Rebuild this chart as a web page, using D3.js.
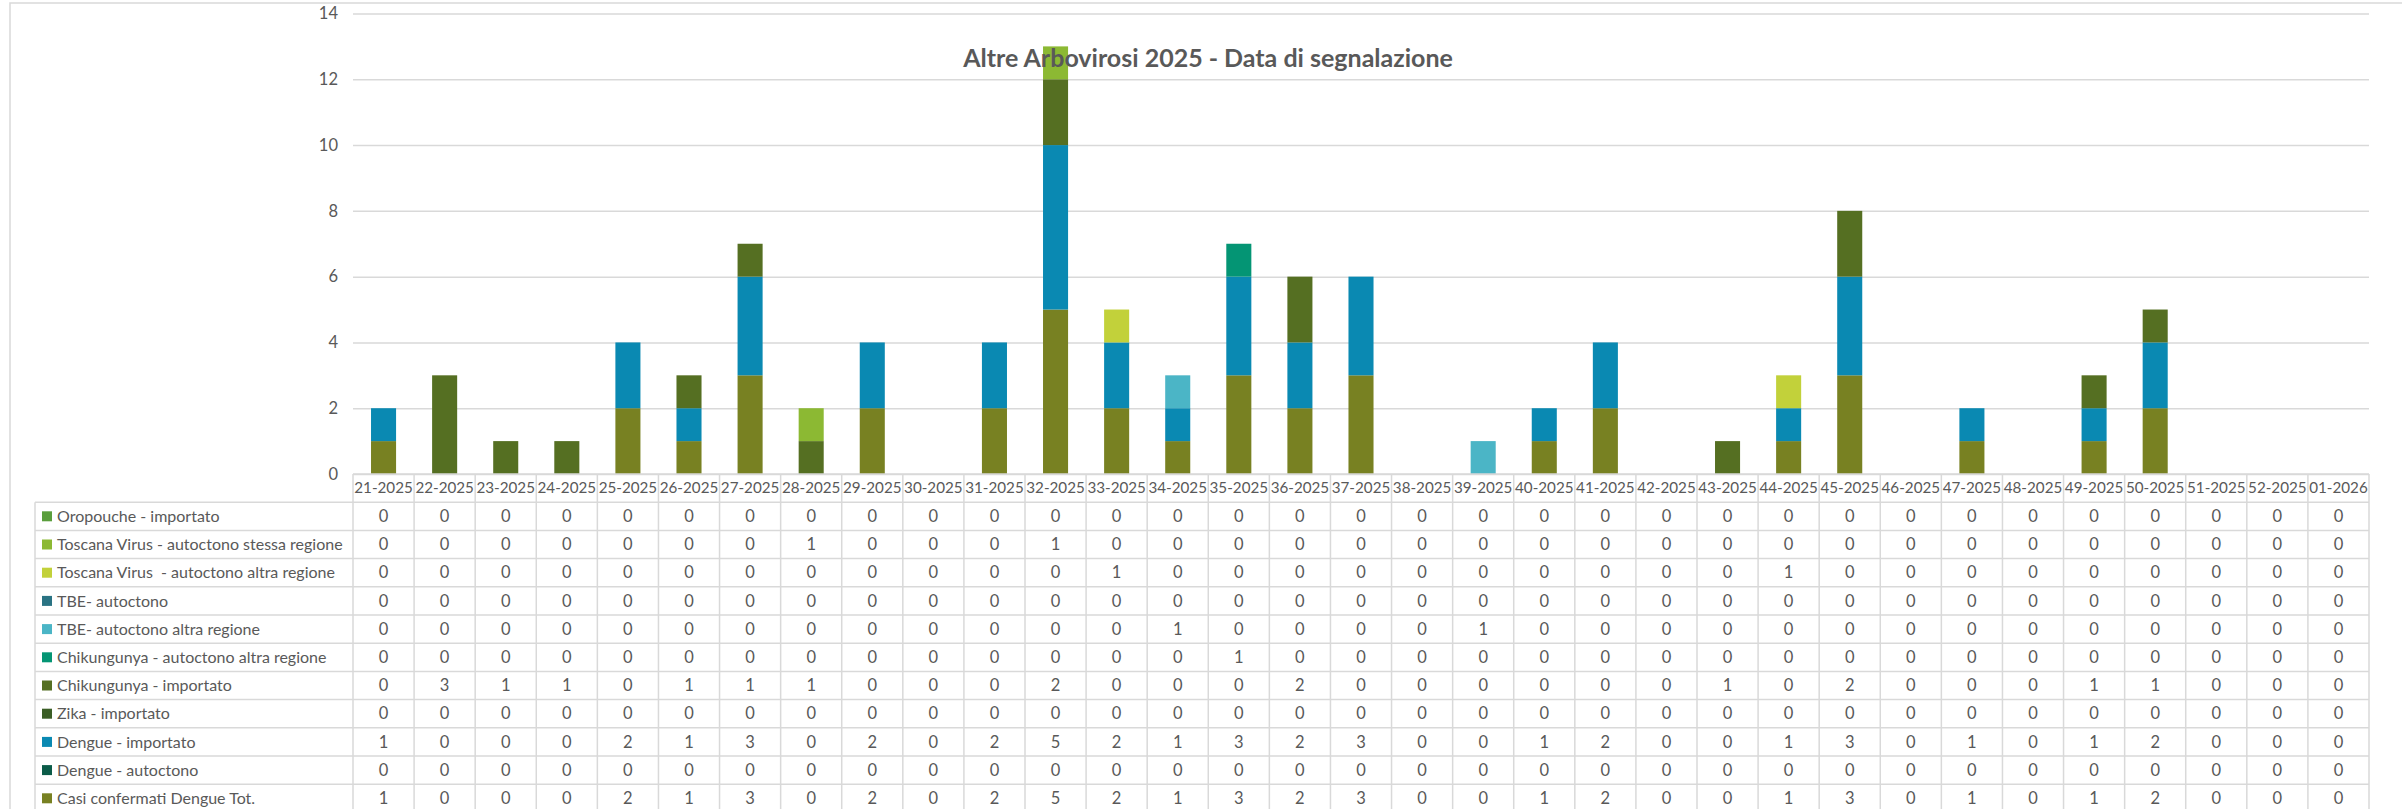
<!DOCTYPE html>
<meta charset="utf-8">

<head>
    <title>Altre Arbovirosi 2025 - Data di segnalazione</title>
    <script type="text/javascript" src="https://d3js.org/d3.v7.min.js"></script>
    <style>
        body { margin: 0; background: #fff; }
        svg text { font-family: Lato, "Noto Sans", sans-serif; fill: #595959; }
    </style>
</head>

<body>
    <svg></svg>

    <script>

        // weeks (x categories)
        var weeks = ["21-2025", "22-2025", "23-2025", "24-2025", "25-2025", "26-2025", "27-2025", "28-2025",
            "29-2025", "30-2025", "31-2025", "32-2025", "33-2025", "34-2025", "35-2025", "36-2025", "37-2025",
            "38-2025", "39-2025", "40-2025", "41-2025", "42-2025", "43-2025", "44-2025", "45-2025", "46-2025",
            "47-2025", "48-2025", "49-2025", "50-2025", "51-2025", "52-2025", "01-2026"];

        // series values, one array per row of the table
        var oropoucheImportato = [0,0,0,0,0,0,0,0,0,0,0,0,0,0,0,0,0,0,0,0,0,0,0,0,0,0,0,0,0,0,0,0,0];
        var toscanaStessa      = [0,0,0,0,0,0,0,1,0,0,0,1,0,0,0,0,0,0,0,0,0,0,0,0,0,0,0,0,0,0,0,0,0];
        var toscanaAltra       = [0,0,0,0,0,0,0,0,0,0,0,0,1,0,0,0,0,0,0,0,0,0,0,1,0,0,0,0,0,0,0,0,0];
        var tbeAutoctono       = [0,0,0,0,0,0,0,0,0,0,0,0,0,0,0,0,0,0,0,0,0,0,0,0,0,0,0,0,0,0,0,0,0];
        var tbeAltra           = [0,0,0,0,0,0,0,0,0,0,0,0,0,1,0,0,0,0,1,0,0,0,0,0,0,0,0,0,0,0,0,0,0];
        var chikAutoctono      = [0,0,0,0,0,0,0,0,0,0,0,0,0,0,1,0,0,0,0,0,0,0,0,0,0,0,0,0,0,0,0,0,0];
        var chikImportato      = [0,3,1,1,0,1,1,1,0,0,0,2,0,0,0,2,0,0,0,0,0,0,1,0,2,0,0,0,1,1,0,0,0];
        var zikaImportato      = [0,0,0,0,0,0,0,0,0,0,0,0,0,0,0,0,0,0,0,0,0,0,0,0,0,0,0,0,0,0,0,0,0];
        var dengueImportato    = [1,0,0,0,2,1,3,0,2,0,2,5,2,1,3,2,3,0,0,1,2,0,0,1,3,0,1,0,1,2,0,0,0];
        var dengueAutoctono    = [0,0,0,0,0,0,0,0,0,0,0,0,0,0,0,0,0,0,0,0,0,0,0,0,0,0,0,0,0,0,0,0,0];
        var dengueTot          = [1,0,0,0,2,1,3,0,2,0,2,5,2,1,3,2,3,0,0,1,2,0,0,1,3,0,1,0,1,2,0,0,0];

        // series names in table order (top to bottom)
        var seriesNames = ["Oropouche - importato", "Toscana Virus - autoctono stessa regione",
            "Toscana Virus  - autoctono altra regione", "TBE- autoctono", "TBE- autoctono altra regione",
            "Chikungunya - autoctono altra regione", "Chikungunya - importato", "Zika - importato",
            "Dengue - importato", "Dengue - autoctono", "Casi confermati Dengue Tot."];
        var seriesValues = [oropoucheImportato, toscanaStessa, toscanaAltra, tbeAutoctono, tbeAltra,
            chikAutoctono, chikImportato, zikaImportato, dengueImportato, dengueAutoctono, dengueTot];
        var seriesColors = ["#5a9e3c", "#8cb933", "#c2d13a", "#2a7383", "#4bb5c6",
            "#049574", "#556f22", "#3b5e26", "#0a89b2", "#0b5b48", "#788122"];

        var yTicks = [0, 2, 4, 6, 8, 10, 12, 14];

        var W = 2402, H = 809;
        var plotLeft = 353, plotRight = 2369, plotTop = 13.5, plotBottom = 474;
        var rowH = 28.2, labelLeft = 35;

        var svg = d3.select("svg").attr("width", W).attr("height", H);

        // outer chart border
        svg.append("rect")
            .attr("x", 10).attr("y", 3)
            .attr("width", W + 20).attr("height", H + 20)
            .attr("fill", "none").attr("stroke", "#d9d9d9").attr("stroke-width", 1.5);

        var x = d3.scaleBand().domain(weeks).range([plotLeft, plotRight]).padding(0);
        var y = d3.scaleLinear().domain([0, 14]).range([plotBottom, plotTop]);

        // y axis + gridlines
        var yAxis = svg.append("g")
            .attr("transform", "translate(" + plotLeft + ",0)")
            .call(d3.axisLeft(y).tickValues(yTicks).tickSize(-(plotRight - plotLeft)).tickPadding(15));
        yAxis.select(".domain").remove();
        yAxis.selectAll(".tick line").attr("stroke", "#d9d9d9").attr("stroke-width", 1.5);
        yAxis.selectAll(".tick text")
            .style("font-size", "16.5px")
            .style("font-family", "Lato, 'Noto Sans', sans-serif")
            .attr("fill", "#595959");

        // stacked bars: bottom series is the last row of the table
        var table = weeks.map(function (w, i) {
            var row = { week: w };
            seriesNames.forEach(function (n, k) { row[n] = seriesValues[k][i]; });
            return row;
        });
        var stackKeys = seriesNames.slice().reverse();
        var stacked = d3.stack().keys(stackKeys)(table);
        var color = d3.scaleOrdinal().domain(seriesNames).range(seriesColors);

        var barW = x.bandwidth() * 0.41;

        svg.append("g").attr("id", "bars")
            .selectAll("g")
            .data(stacked)
            .enter().append("g")
            .attr("fill", function (d) { return color(d.key); })
            .selectAll("rect")
            .data(function (d) { return d; })
            .enter().append("rect")
            .filter(function (d) { return d[1] - d[0] > 0; })
            .attr("x", function (d) { return x(d.data.week) + (x.bandwidth() - barW) / 2; })
            .attr("width", barW)
            .attr("y", function (d) { return y(d[1]); })
            .attr("height", function (d) { return y(d[0]) - y(d[1]); });

        // title (drawn above the bars, as in the original)
        svg.append("text")
            .attr("x", 1208).attr("y", 67)
            .attr("text-anchor", "middle")
            .style("font-size", "25px")
            .style("font-weight", "bold")
            .text("Altre Arbovirosi 2025 - Data di segnalazione");

        // data table
        var grid = svg.append("g").attr("id", "table")
            .attr("stroke", "#d9d9d9").attr("stroke-width", 1.5);
        var tableTop = plotBottom + rowH;
        var tableBottom = tableTop + rowH * seriesNames.length;

        // horizontal lines
        grid.append("line").attr("x1", plotLeft).attr("x2", plotRight)
            .attr("y1", plotBottom).attr("y2", plotBottom);
        d3.range(seriesNames.length + 1).forEach(function (r) {
            grid.append("line").attr("x1", labelLeft).attr("x2", plotRight)
                .attr("y1", tableTop + r * rowH).attr("y2", tableTop + r * rowH);
        });
        // vertical lines
        grid.append("line").attr("x1", labelLeft).attr("x2", labelLeft)
            .attr("y1", tableTop).attr("y2", tableBottom);
        weeks.forEach(function (w) {
            grid.append("line").attr("x1", x(w)).attr("x2", x(w))
                .attr("y1", plotBottom).attr("y2", tableBottom);
        });
        grid.append("line").attr("x1", plotRight).attr("x2", plotRight)
            .attr("y1", plotBottom).attr("y2", tableBottom);

        // week headers
        svg.append("g").selectAll("text")
            .data(weeks)
            .enter().append("text")
            .attr("x", function (d) { return x(d) + x.bandwidth() / 2; })
            .attr("y", plotBottom + rowH / 2)
            .attr("dy", "0.35em")
            .attr("text-anchor", "middle")
            .style("font-size", "15.2px")
            .text(function (d) { return d; });

        // rows: legend swatch, label, values
        seriesNames.forEach(function (name, r) {
            var cy = tableTop + r * rowH + rowH / 2;
            svg.append("rect")
                .attr("x", 42).attr("y", cy - 5)
                .attr("width", 10).attr("height", 10)
                .attr("fill", seriesColors[r]);
            svg.append("text")
                .attr("x", 57).attr("y", cy)
                .attr("dy", "0.35em")
                .style("font-size", "16px")
                .style("white-space", "pre")
                .text(name);
            svg.append("g").selectAll("text")
                .data(seriesValues[r])
                .enter().append("text")
                .attr("x", function (d, i) { return x(weeks[i]) + x.bandwidth() / 2; })
                .attr("y", cy)
                .attr("dy", "0.35em")
                .attr("text-anchor", "middle")
                .style("font-size", "16.5px")
                .text(function (d) { return d; });
        });

    </script>

</body>

</html>
